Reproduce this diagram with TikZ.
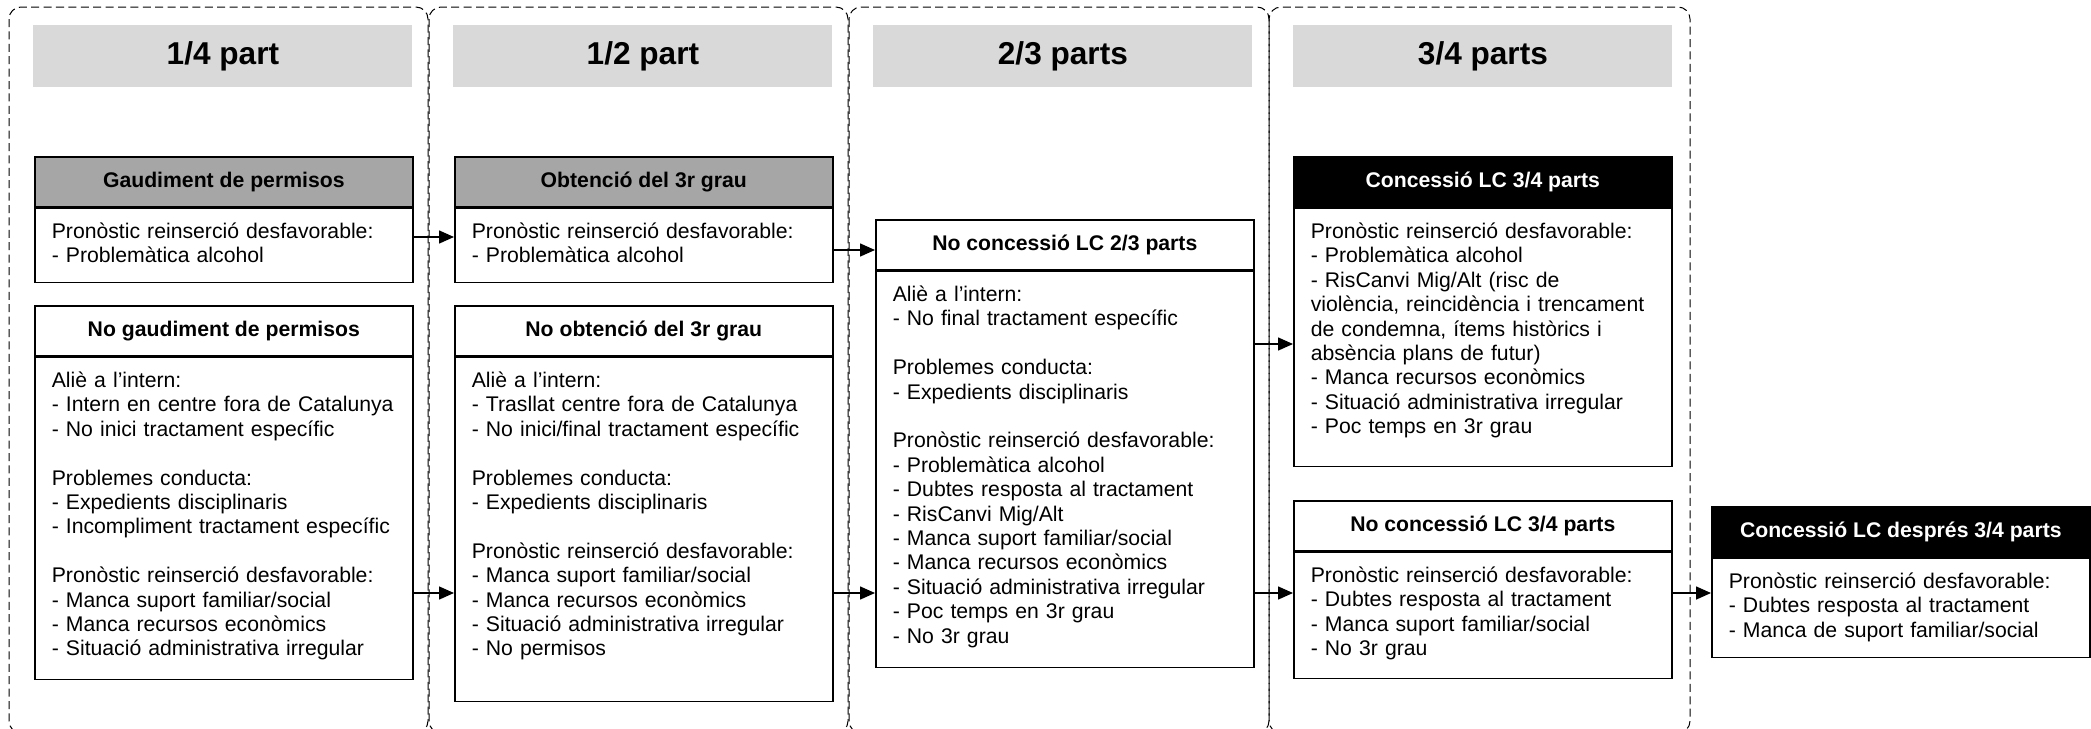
\documentclass[tikz,border=0pt]{standalone}
\usepackage{fontspec}
\setmainfont{Liberation Sans}
\usepackage{tikz}
\usetikzlibrary{positioning, arrows.meta}
\definecolor{phasegray}{HTML}{D9D9D9}
\definecolor{bandgray}{HTML}{A6A6A6}

\begin{document}
\begin{tikzpicture}[
    x=0.5pt, y=-0.5pt,
    column/.style={
        draw,
        line width=0.5pt,
        dash pattern=on 4pt off 2.2pt,
        rounded corners=6pt
    },
    phase/.style={
        rectangle,
        fill=phasegray,
        anchor=north west,
        minimum width=189.5pt,
        minimum height=31pt,
        inner sep=0pt,
        font=\fontsize{15.8pt}{18pt}\selectfont\bfseries
    },
    band/.style={
        rectangle,
        draw,
        line width=0.8pt,
        anchor=north west,
        minimum width=189pt,
        minimum height=25pt,
        inner sep=0pt,
        font=\fontsize{10.6pt}{12.2pt}\selectfont\bfseries
    },
    body/.style={
        rectangle,
        draw,
        line width=0.8pt,
        below=0pt of #1,
        text width=172pt,
        inner xsep=8.5pt,
        inner ysep=4pt,
        text height=11pt,
        align=left,
        font=\fontsize{10.6pt}{12.2pt}\selectfont
    },
    link/.style={line width=0.75pt, -{Triangle[length=7.5pt,width=6.5pt]}}
]

\useasboundingbox (0,0) rectangle (2091,728);
\clip (0,0) rectangle (2091,728);

\draw[column] (9,7) rectangle (428,733);
\draw[column] (429,7) rectangle (848,733);
\draw[column] (849,7) rectangle (1269,733);
\draw[column] (1269,7) rectangle (1690,733);

\node[phase] (quarter) at (33,25) {1/4 part};
\node[phase] (half) at (453,25) {1/2 part};
\node[phase] (twothirds) at (873,25) {2/3 parts};
\node[phase] (threequarters) at (1293,25) {3/4 parts};

\node[band, fill=bandgray] (permish) at (34,156) {Gaudiment de permisos};
\node[body=permish, text depth=18pt] (permis) {
Pronòstic reinserció desfavorable:\\
- Problemàtica alcohol
};

\node[band] (nopermish) at (34,305) {No gaudiment de permisos};
\node[body=nopermish, text depth=142pt] (nopermis) {
Aliè a l’intern:\\
- Intern en centre fora de Catalunya\\
- No inici tractament específic\\[\baselineskip]
Problemes conducta:\\
- Expedients disciplinaris\\
- Incompliment tractament específic\\[\baselineskip]
Pronòstic reinserció desfavorable:\\
- Manca suport familiar/social\\
- Manca recursos econòmics\\
- Situació administrativa irregular
};

\node[band, fill=bandgray] (tercerh) at (454,156) {Obtenció del 3r grau};
\node[body=tercerh, text depth=18pt] (tercer) {
Pronòstic reinserció desfavorable:\\
- Problemàtica alcohol
};

\node[band] (notercerh) at (454,305) {No obtenció del 3r grau};
\node[body=notercerh, text depth=153pt] (notercer) {
Aliè a l’intern:\\
- Trasllat centre fora de Catalunya\\
- No inici/final tractament específic\\[\baselineskip]
Problemes conducta:\\
- Expedients disciplinaris\\[\baselineskip]
Pronòstic reinserció desfavorable:\\
- Manca suport familiar/social\\
- Manca recursos econòmics\\
- Situació administrativa irregular\\
- No permisos
};

\node[band] (nolcah) at (875,219) {No concessió LC 2/3 parts};
\node[body=nolcah, text depth=179pt] (nolca) {
Aliè a l’intern:\\
- No final tractament específic\\[\baselineskip]
Problemes conducta:\\
- Expedients disciplinaris\\[\baselineskip]
Pronòstic reinserció desfavorable:\\
- Problemàtica alcohol\\
- Dubtes resposta al tractament\\
- RisCanvi Mig/Alt\\
- Manca suport familiar/social\\
- Manca recursos econòmics\\
- Situació administrativa irregular\\
- Poc temps en 3r grau\\
- No 3r grau
};

\node[band, fill=black, text=white] (lcbh) at (1293,156) {Concessió LC 3/4 parts};
\node[body=lcbh, text depth=110pt] (lcb) {
Pronòstic reinserció desfavorable:\\
- Problemàtica alcohol\\
- RisCanvi Mig/Alt (risc de\\
violència, reincidència i trencament\\
de condemna, ítems històrics i\\
absència plans de futur)\\
- Manca recursos econòmics\\
- Situació administrativa irregular\\
- Poc temps en 3r grau
};

\node[band] (nolcbh) at (1293,500) {No concessió LC 3/4 parts};
\node[body=nolcbh, text depth=44pt] (nolcb) {
Pronòstic reinserció desfavorable:\\
- Dubtes resposta al tractament\\
- Manca suport familiar/social\\
- No 3r grau
};

\node[band, fill=black, text=white] (lcposth) at (1711,506) {Concessió LC després 3/4 parts};
\node[body=lcposth, text depth=30.5pt] (lcpost) {
Pronòstic reinserció desfavorable:\\
- Dubtes resposta al tractament\\
- Manca de suport familiar/social
};

\draw[link] (permis.east |- 0,237) -- (tercer.west |- 0,237);
\draw[link] (nopermis.east |- 0,593) -- (notercer.west |- 0,593);
\draw[link] (tercer.east |- 0,250) -- (nolcah.west |- 0,250);
\draw[link] (notercer.east |- 0,593) -- (nolca.west |- 0,593);
\draw[link] (nolca.east |- 0,344) -- (lcb.west |- 0,344);
\draw[link] (nolca.east |- 0,593) -- (nolcb.west |- 0,593);
\draw[link] (nolcb.east |- 0,593) -- (lcpost.west |- 0,593);

\end{tikzpicture}
\end{document}
